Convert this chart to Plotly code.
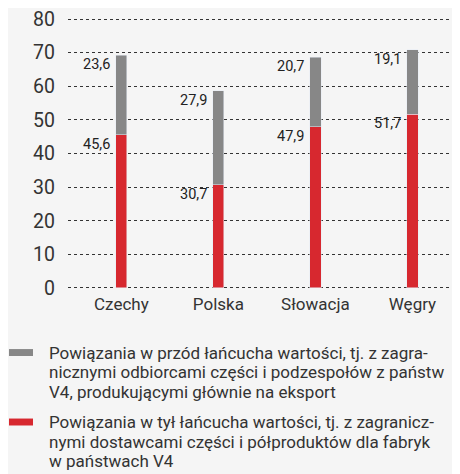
import plotly.graph_objects as go

kraje = ["Czechy", "Polska", "Słowacja", "Węgry"]
w_tyl = [45.6, 30.7, 47.9, 51.7]
w_przod = [23.6, 27.9, 20.7, 19.1]
etykiety_tyl = ["45,6", "30,7", "47,9", "51,7"]
etykiety_przod = ["23,6", "27,9", "20,7", "19,1"]
nazwy = [
    "Powiązania w przód łańcucha wartości, tj. z zagra-<br>nicznymi odbiorcami części i podzespołów z państw<br>V4, produkującymi głównie na eksport",
    "Powiązania w tył łańcucha wartości, tj. z zagranicz-<br>nymi dostawcami części i półproduktów dla fabryk<br>w państwach V4",
]

SZARY = "#878787"
CZERWONY = "#d7282f"
FONT = "Roboto"
OFF = 8  # body margin of the html page
W, H = 460, 474
TOP, BOTTOM = 16, 289


def py(p):
    # pixel y (in the page) -> paper y
    return (BOTTOM - p) / (BOTTOM - TOP)


def px(p):
    return (p - 68) / (W - 68)


fig = go.Figure()
fig.add_bar(x=kraje, y=w_tyl, marker_color=CZERWONY, width=0.115, name="tyl")
fig.add_bar(x=kraje, y=w_przod, marker_color=SZARY, width=0.115, name="przod")

for i, k in enumerate(kraje):
    fig.add_annotation(x=k, y=w_tyl[i], text=etykiety_tyl[i], showarrow=False,
                       xanchor="right", yanchor="top", xshift=-9, yshift=1,
                       font=dict(family=FONT, size=14.5, color="#222"))
    fig.add_annotation(x=k, y=w_tyl[i] + w_przod[i], text=etykiety_przod[i], showarrow=False,
                       xanchor="right", yanchor="top", xshift=-9, yshift=1,
                       font=dict(family=FONT, size=14.5, color="#222"))

# legenda
kolory = [SZARY, CZERWONY]
srodki = [353, 423]
for nazwa, kolor, p in zip(nazwy, kolory, srodki):
    fig.add_shape(type="rect", xref="paper", yref="paper",
                  x0=px(9), x1=px(33), y0=py(p - 3.5), y1=py(p + 3.5),
                  fillcolor=kolor, line_width=0)
    for j, linia in enumerate(nazwa.split("<br>")):
        fig.add_annotation(xref="paper", yref="paper", x=px(47), y=py(p + 19.7 * j),
                           text=linia, showarrow=False, xanchor="left", yanchor="middle",
                           align="left", font=dict(family=FONT, size=17, color="#333"))

fig.update_layout(
    width=W - OFF, height=H - OFF,
    barmode="stack",
    showlegend=False,
    paper_bgcolor="#f5f5f5",
    plot_bgcolor="#f5f5f5",
    margin=dict(l=68 - OFF, r=0, t=TOP - OFF, b=H - BOTTOM),
    font=dict(family=FONT, color="#333"),
)
fig.update_xaxes(range=[-0.55, 3.49], showgrid=False, showline=False, ticks="",
                 ticklabelstandoff=3, tickfont=dict(size=17, color="#333"))
fig.update_yaxes(range=[-0.3, 80.3], tickvals=list(range(0, 81, 10)), showgrid=True,
                 gridcolor="#333", griddash="dot", gridwidth=1, zeroline=False,
                 showline=False, ticks="", ticklabelstandoff=12, ticklabeloverflow="allow",
                 tickfont=dict(size=19.5, color="#333"))

fig.write_html("out.html")
